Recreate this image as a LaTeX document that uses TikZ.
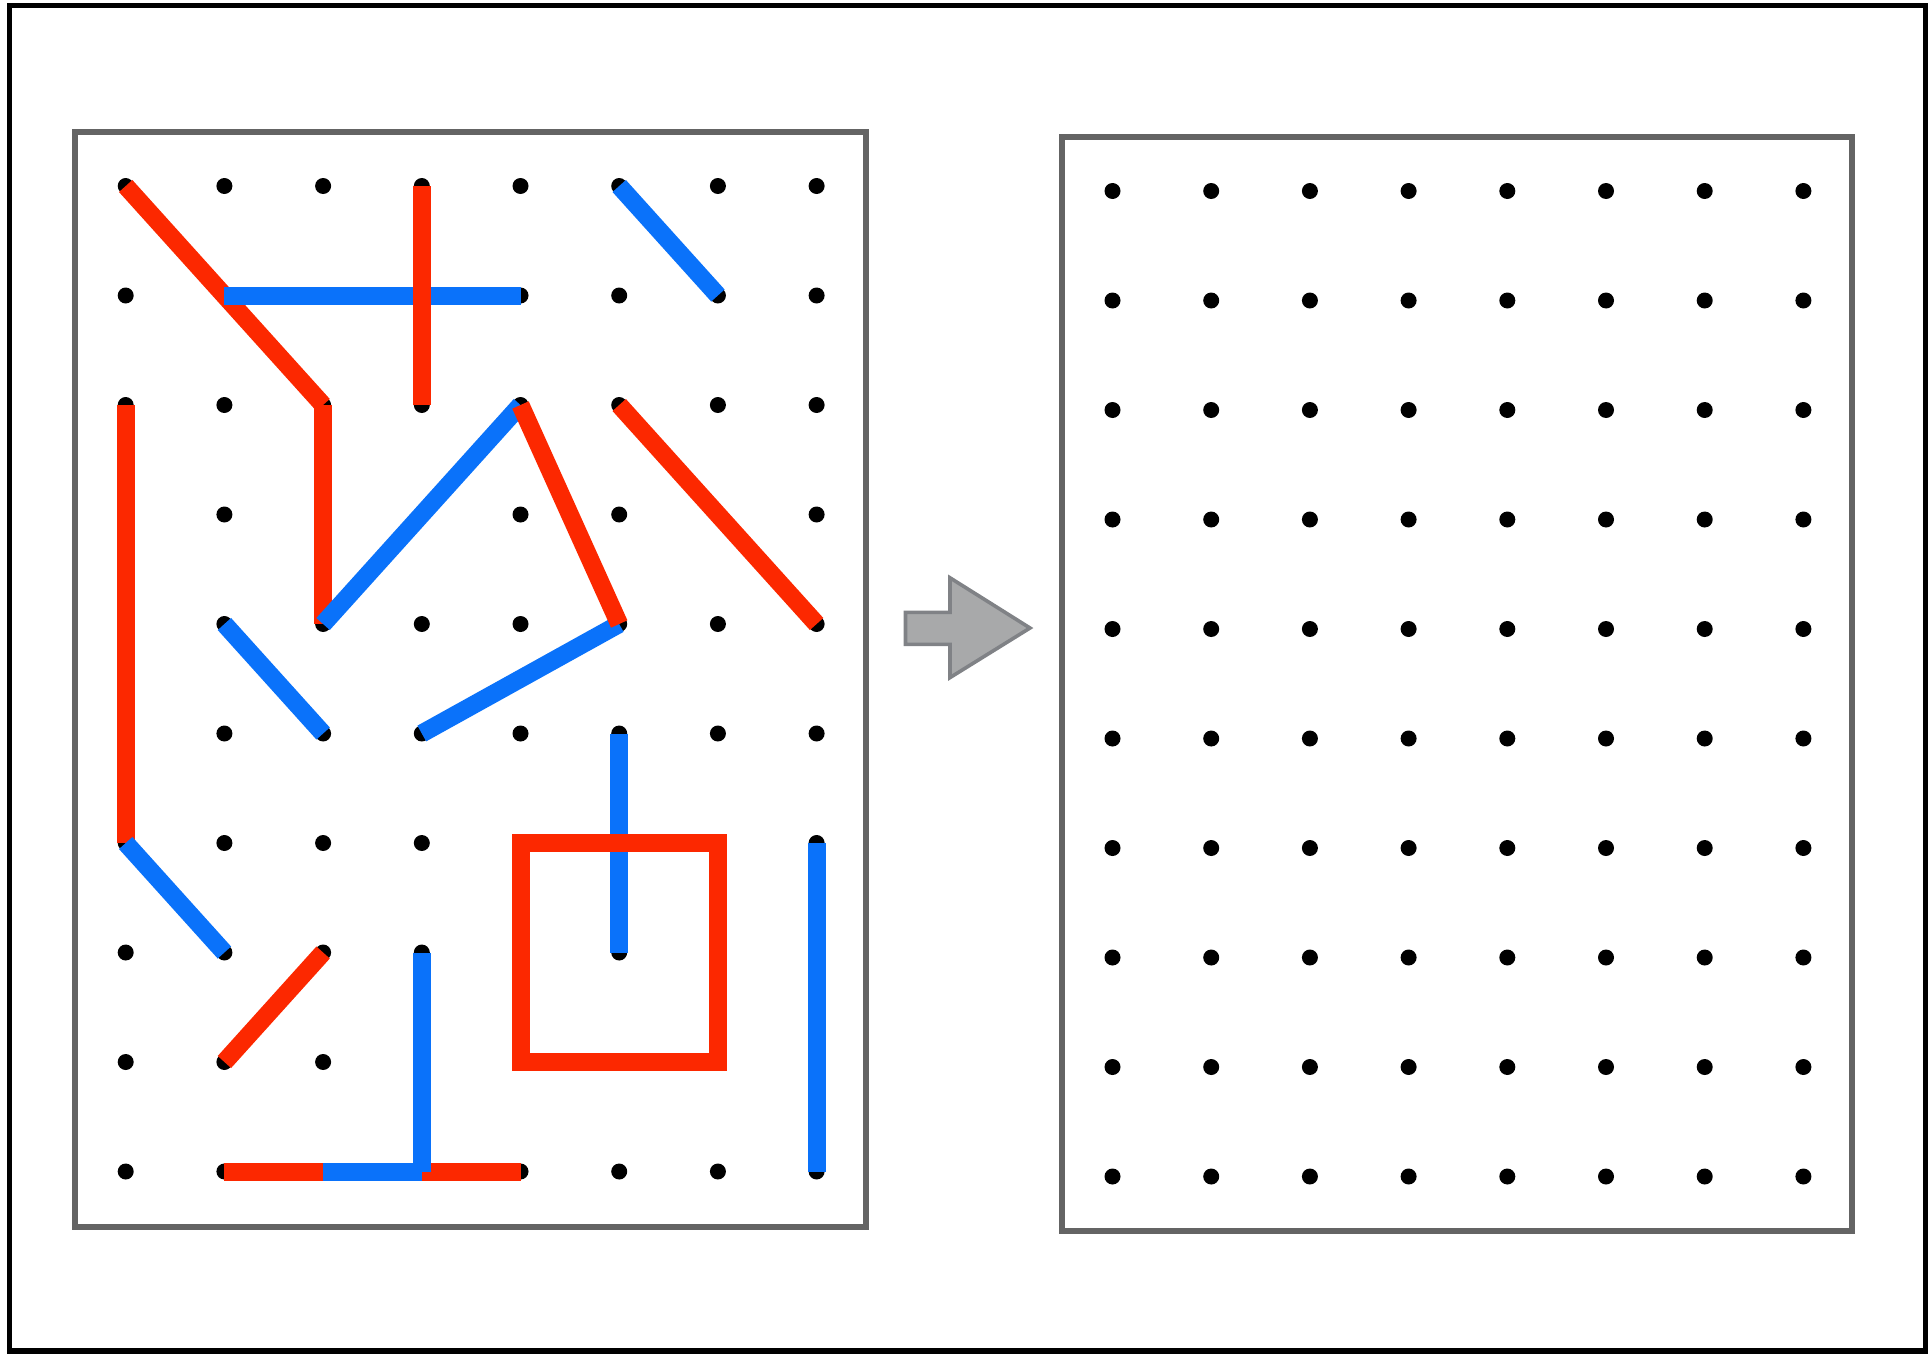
\documentclass[tikz,border=0pt]{standalone}
\definecolor{bandred}{RGB}{252,40,0}
\definecolor{bandblue}{RGB}{10,114,250}
\definecolor{framegray}{RGB}{100,100,100}
\definecolor{arrowfill}{RGB}{168,169,170}
\definecolor{arrowline}{RGB}{128,130,134}
\begin{document}
\begin{tikzpicture}[x=0.5pt, y=-0.5pt,
    redband/.style={line width=9pt, bandred},
    blueband/.style={line width=9pt, bandblue},
    board/.style={line width=3.2pt, framegray},
    peg/.style={fill=black}]
    \useasboundingbox (0,0) rectangle (1932,1354);
    % 外框
    \draw[line width=2.7pt] (9.5,5.5) rectangle (1925.5,1351);
    % 左板
    \draw[board] (75,132) rectangle (866,1227);
    \foreach \i in {0,...,7}
        \foreach \j in {0,...,9} {
            \coordinate (l\i\j) at ({125.7+98.7*\i},{186+109.5*\j});
            \fill[peg] (l\i\j) circle (4pt);
        }
    % 右板
    \draw[board] (1062,137) rectangle (1852,1231);
    \foreach \i in {0,...,7}
        \foreach \j in {0,...,9} {
            \coordinate (r\i\j) at ({1112.5+98.7*\i},{191+109.5*\j});
            \fill[peg] (r\i\j) circle (4pt);
        }
    % 箭头
    \draw[arrowline, fill=arrowfill, line width=1.8pt]
        (905.5,612.3) -- (950,612.3) -- (950,577.8) -- (1030,628) --
        (950,677.6) -- (950,644.3) -- (905.5,644.3) -- cycle;
    % 红线 (下层)
    \draw[redband] (l00) -- (l22);
    \draw[redband] (l22) -- (l24);
    \draw[redband] (l02) -- (l06);
    \draw[redband] (l52) -- (l74);
    \draw[redband] (l18) -- (l27);
    \draw[redband] (l19) -- (l29);
    \draw[redband] (l39) -- (l49);
    % 蓝线
    \draw[blueband] (l11) -- (l41);
    \draw[blueband] (l50) -- (l61);
    \draw[blueband] (l24) -- (l42);
    \draw[blueband] (l14) -- (l25);
    \draw[blueband] (l35) -- (l54);
    \draw[blueband] (l55) -- (l57);
    \draw[blueband] (l06) -- (l17);
    \draw[blueband] (l37) -- (l39);
    \draw[blueband] (l29) -- (l39);
    \draw[blueband] (l76) -- (l79);
    % 红线 (上层)
    \draw[redband] (l30) -- (l32);
    \draw[redband] (l42) -- (l54);
    \draw[redband] (l46) rectangle (l68);
\end{tikzpicture}
\end{document}
